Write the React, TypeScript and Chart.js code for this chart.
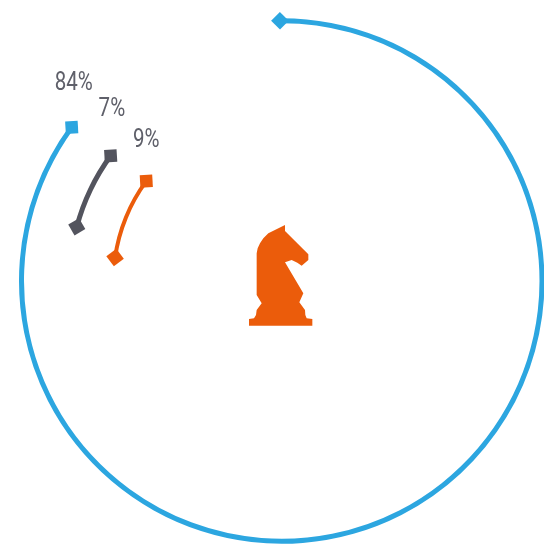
import React, { useEffect, useRef } from "react";
import { Chart, registerables, Plugin } from "chart.js";

Chart.register(...registerables);

// Share values shown around the knight, outermost ring first.
const ringNames = ["Blue", "Gray", "Orange"];
const ringValues = [84, 7, 9];
const ringColors = ["#2ca6e0", "#53545e", "#eb5c0b"];
const ringWeights = [5, 5, 4];
const ringGaps = [43.25, 39.2];
const ringStarts = [-0.4, 284.8, 278];
const ringSweeps = [365, 305.7, 315.6];
const labelOffsets: [number, number][] = [[2, -43.5], [1.2, -46.5], [0, -40.5]];
const labelColor = "#5f606a";

// Knight silhouette, in thirds of a pixel around the chart centre.
const knightOutline: [number, number][] = [
  [135, 30], [135, 48], [205, 118], [205, 135], [185, 152], [172, 143], [155, 135], [135, 142],
  [190, 235], [178, 262], [195, 285], [196, 300], [200, 310], [217, 312], [217, 332], [27, 332],
  [27, 312], [42, 310], [48, 300], [50, 285], [65, 265], [50, 240], [50, 115], [53, 100],
  [60, 85], [70, 70], [85, 55],
];
const knightOrigin: [number, number] = [125.25, 198];

const dataDatasetIndex = (ring: number) => ring * 2;

const markerPlugin: Plugin<"doughnut"> = {
  id: "ringDecorations",
  afterDatasetsDraw(chart) {
    const { ctx } = chart;
    const drawMarker = (x: number, y: number, angle: number, color: string, size: number) => {
      ctx.save();
      ctx.translate(x, y);
      ctx.rotate(angle);
      ctx.fillStyle = color;
      ctx.fillRect(-size / 2, -size / 2, size, size);
      ctx.restore();
    };

    ringValues.forEach((value, ring) => {
      const arc = chart.getDatasetMeta(dataDatasetIndex(ring)).data[0] as any;
      const radius = (arc.innerRadius + arc.outerRadius) / 2;
      const at = (angle: number): [number, number] => [
        arc.x + Math.cos(angle) * radius,
        arc.y + Math.sin(angle) * radius,
      ];
      const [sx, sy] = at(arc.startAngle);
      const [ex, ey] = at(arc.endAngle);
      // Start caps sit corner-on to the ring, end caps a little closer to square.
      drawMarker(sx, sy, arc.startAngle + Math.PI * 0.75, ringColors[ring], 12.5);
      drawMarker(ex, ey, arc.endAngle + Math.PI * 0.78, ringColors[ring], 12.5);

      ctx.save();
      ctx.fillStyle = labelColor;
      ctx.font = '400 25px Roboto, sans-serif';
      ctx.textAlign = "center";
      ctx.textBaseline = "middle";
      ctx.translate(ex + labelOffsets[ring][0], ey + labelOffsets[ring][1]);
      ctx.scale(0.82, 1);
      ctx.fillText(`${value}%`, 0, 0);
      ctx.restore();
    });

    const first = chart.getDatasetMeta(0).data[0] as any;
    ctx.save();
    ctx.translate(first.x, first.y);
    ctx.scale(1 / 3, 1 / 3);
    ctx.fillStyle = ringColors[2];
    ctx.beginPath();
    knightOutline.forEach(([px, py], i) => {
      const x = px - knightOrigin[0];
      const y = py - knightOrigin[1];
      if (i === 0) ctx.moveTo(x, y);
      else ctx.lineTo(x, y);
    });
    ctx.closePath();
    ctx.fill();
    ctx.restore();
  },
};

export default function App() {
  const ref = useRef<HTMLCanvasElement>(null);

  useEffect(() => {
    if (!ref.current) return;
    const datasets: any[] = [];
    ringValues.forEach((value, ring) => {
      datasets.push({
        label: ringNames[ring],
        data: [value, 100 - value],
        backgroundColor: [ringColors[ring], "transparent"],
        borderWidth: 0,
        rotation: ringStarts[ring],
        circumference: ringSweeps[ring],
        weight: ringWeights[ring],
      });
      if (ring < ringGaps.length) {
        // Empty band that keeps the rings apart.
        datasets.push({
          label: "",
          data: [1],
          backgroundColor: ["transparent"],
          borderWidth: 0,
          rotation: 0,
          circumference: 360,
          weight: ringGaps[ring],
        });
      }
    });

    const chart = new Chart(ref.current, {
      type: "doughnut",
      data: { labels: ["Share", "Rest"], datasets },
      options: {
        animation: false,
        responsive: false,
        cutout: 166.3,
        layout: { padding: { left: 19, top: 18.25, right: 5.5, bottom: 4.25 } },
        plugins: { legend: { display: false }, tooltip: { enabled: false } },
      },
      plugins: [markerPlugin],
    });
    return () => chart.destroy();
  }, []);

  return (
    <div style={{ position: "absolute", left: 0, top: 0, width: 544, height: 547, overflow: "hidden", background: "#fff" }}>
      <canvas ref={ref} width={550} height={548} style={{ display: "block" }} />
    </div>
  );
}
